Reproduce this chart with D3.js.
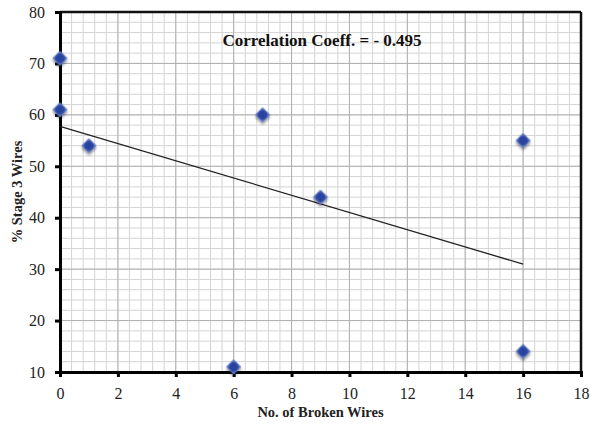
<!DOCTYPE html>
<html><head><meta charset="utf-8">
<script src="https://cdn.jsdelivr.net/npm/d3@7/dist/d3.min.js"></script>
<style>body{margin:0;background:#fff}</style>
</head><body>
<svg id="c" width="590" height="428"></svg>
<script>
const brokenWires = [0, 0, 1, 6, 7, 9, 16, 16];
const stage3Pct   = [71, 61, 54, 11, 60, 44, 55, 14];
const xTicks = [0, 2, 4, 6, 8, 10, 12, 14, 16, 18];
const yTicks = [10, 20, 30, 40, 50, 60, 70, 80];
const annotation = "Correlation Coeff. = - 0.495";
const xTitle = "No. of Broken Wires";
const yTitle = "% Stage 3 Wires";

const svg = d3.select("#c");
const L = 60, R = 581, T = 12, B = 372;
const x = d3.scaleLinear().domain([0, 18]).range([L, R]);
const y = d3.scaleLinear().domain([10, 80]).range([B, T]);
const serif = "'Liberation Serif','DejaVu Serif',serif";

const defs = svg.append("defs");
const f = defs.append("filter").attr("id","sh").attr("x","-50%").attr("y","-50%").attr("width","200%").attr("height","200%");
f.append("feDropShadow").attr("dx",1.5).attr("dy",1.5).attr("stdDeviation",1.2).attr("flood-color","#000").attr("flood-opacity",0.45);
const g2 = defs.append("radialGradient").attr("id","mk").attr("cx","50%").attr("cy","50%").attr("r","60%");
g2.append("stop").attr("offset","0%").attr("stop-color","#243f9c");
g2.append("stop").attr("offset","70%").attr("stop-color","#2c47a3");
g2.append("stop").attr("offset","100%").attr("stop-color","#6f86c8");

// grid
const xMinor = d3.range(0, 18.0001, 0.4);
const yMinor = d3.range(10, 80.0001, 2);
const grid = svg.append("g");
grid.selectAll(".vm").data(xMinor).join("line")
  .attr("x1", d=>x(d)).attr("x2", d=>x(d)).attr("y1", T).attr("y2", B)
  .attr("stroke","#d4d4d4").attr("stroke-width",1);
grid.selectAll(".hm").data(yMinor).join("line")
  .attr("x1", L).attr("x2", R).attr("y1", d=>y(d)).attr("y2", d=>y(d))
  .attr("stroke","#d4d4d4").attr("stroke-width",1);
grid.selectAll(".vM").data(xTicks).join("line")
  .attr("x1", d=>x(d)).attr("x2", d=>x(d)).attr("y1", T).attr("y2", B)
  .attr("stroke","#b0b0b0").attr("stroke-width",1);
grid.selectAll(".hM").data(yTicks).join("line")
  .attr("x1", L).attr("x2", R).attr("y1", d=>y(d)).attr("y2", d=>y(d))
  .attr("stroke","#b0b0b0").attr("stroke-width",1);

// border top/right
svg.append("line").attr("x1",L).attr("x2",R).attr("y1",T).attr("y2",T).attr("stroke","#111").attr("stroke-width",2.5);
svg.append("line").attr("x1",R).attr("x2",R).attr("y1",T).attr("y2",B).attr("stroke","#111").attr("stroke-width",2.5);

// axes
const xAxis = svg.append("g").attr("transform",`translate(0,${B})`)
  .call(d3.axisBottom(x).tickValues(xTicks).tickSize(5).tickPadding(11).tickFormat(d3.format("d")));
const yAxis = svg.append("g").attr("transform",`translate(${L},0)`)
  .call(d3.axisLeft(y).tickValues(yTicks).tickSize(5).tickPadding(10).tickFormat(d3.format("d")));
[xAxis, yAxis].forEach(a => {
  a.select(".domain").attr("stroke","#000").attr("stroke-width",3);
  a.selectAll(".tick line").attr("stroke","#000").attr("stroke-width",3);
  a.selectAll(".tick text").attr("font-family",serif).attr("font-size",16).attr("fill","#222");
});

// trendline (least squares from data)
const mx = d3.mean(brokenWires), my = d3.mean(stage3Pct);
const sxy = d3.sum(brokenWires, (v,i)=>(v-mx)*(stage3Pct[i]-my));
const sxx = d3.sum(brokenWires, v=>(v-mx)*(v-mx));
const slope = sxy/sxx, icpt = my - slope*mx;
const x0 = d3.min(brokenWires), x1 = d3.max(brokenWires);
svg.append("line").attr("x1",x(x0)).attr("y1",y(icpt+slope*x0)).attr("x2",x(x1)).attr("y2",y(icpt+slope*x1))
  .attr("stroke","#222").attr("stroke-width",1.3);

// markers
const pts = brokenWires.map((v,i)=>({x:v, y:stage3Pct[i]}));
svg.append("g").selectAll("path").data(pts).join("path")
  .attr("d", d3.symbol().type(d3.symbolSquare).size(100))
  .attr("transform", d=>`translate(${x(d.x)},${y(d.y)}) rotate(45)`)
  .attr("fill","url(#mk)").attr("stroke","#5a73bd").attr("stroke-width",0.8)
  .attr("filter","url(#sh)");

// annotation
svg.append("text").attr("x",322).attr("y",46).attr("text-anchor","middle")
  .attr("font-family",serif).attr("font-weight","bold").attr("font-size",17).attr("fill","#111")
  .text(annotation);

// titles
svg.append("text").attr("x",(L+R)/2).attr("y",417).attr("text-anchor","middle")
  .attr("font-family",serif).attr("font-weight","bold").attr("font-size",14.5).attr("fill","#222")
  .text(xTitle);
svg.append("text").attr("transform",`translate(22,${(T+B)/2}) rotate(-90)`).attr("text-anchor","middle")
  .attr("font-family",serif).attr("font-weight","bold").attr("font-size",14.5).attr("fill","#222")
  .text(yTitle);
</script>
</body></html>
